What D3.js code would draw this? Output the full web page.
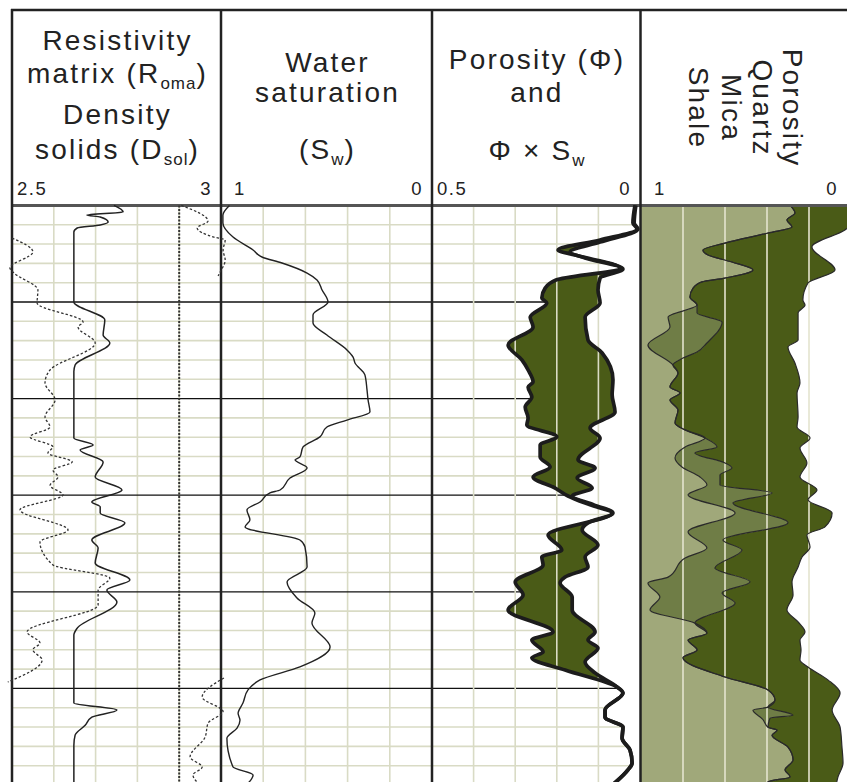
<!DOCTYPE html>
<html>
<head>
<meta charset="utf-8">
<script src="https://cdn.jsdelivr.net/npm/d3@7"></script>
<style>
  body { margin: 0; background: #fff; }
  svg { display: block; }
  .title { font-family: "Liberation Sans", Arial, sans-serif; font-size: 28px; letter-spacing: 2.2px; fill: #222; }
  .scale { font-family: "Liberation Sans", Arial, sans-serif; font-size: 18.5px; letter-spacing: 1.5px; fill: #222; }
</style>
</head>
<body>
<svg id="chart" width="847" height="782"></svg>
<script>
// ---- data: [depth, value] ----
const depthDomain = [0, 30];

// track 1 (2.5 .. 3)
const roma = [[0,2.744],[0.34,2.766],[0.50,2.679],[0.60,2.711],[0.86,2.730],[1.01,2.711],[1.17,2.656],[1.38,2.648],[5.00,2.648],[5.93,2.722],[6.71,2.718],[7.12,2.734],[8.26,2.651],[8.60,2.648],[12.04,2.648],[12.40,2.694],[12.66,2.663],[13.28,2.718],[14.06,2.699],[14.73,2.763],[15.35,2.691],[15.60,2.711],[15.92,2.711],[16.43,2.770],[17.32,2.691],[17.73,2.706],[18.51,2.699],[19.39,2.782],[19.91,2.727],[20.53,2.751],[21.88,2.656],[22.24,2.648],[25.76,2.648],[26.12,2.751],[26.49,2.691],[26.91,2.675],[27.42,2.651],[27.94,2.648],[30,2.648]];
const dsol = [[1.69,2.500],[2.41,2.550],[3.24,2.495],[3.50,2.505],[4.38,2.562],[5.05,2.560],[6.04,2.670],[6.29,2.658],[7.12,2.699],[8.52,2.591],[9.19,2.579],[10.07,2.603],[10.95,2.579],[11.47,2.591],[11.98,2.543],[12.50,2.598],[12.81,2.586],[13.28,2.644],[13.69,2.598],[14.06,2.610],[14.50,2.591],[14.98,2.622],[15.76,2.519],[16.80,2.634],[17.42,2.567],[18.61,2.598],[19.29,2.734],[19.91,2.706],[20.68,2.706],[22.08,2.536],[22.65,2.567],[23.00,2.550],[23.53,2.572],[24.67,2.490]];
const dsolWrapTop = [[0,2.905],[0.81,2.969],[1.17,2.943],[1.64,2.983],[1.79,3.010],[2.31,3.005],[2.83,3.010],[3.45,2.998],[3.65,2.993]];
const dsolWrapBottom = [[24.46,3.007],[25.45,2.955],[26.20,3.005],[26.80,2.969],[27.52,2.962],[28.55,2.926],[29.07,2.955],[29.48,2.933],[30,2.950]];
const dsolCutoff = 2.9;

// track 2 (1 .. 0)
const sw = [[0,0.960],[0.50,0.991],[0.91,0.991],[1.64,0.943],[2.31,0.848],[2.67,0.806],[2.98,0.711],[3.50,0.592],[3.86,0.545],[4.38,0.521],[5.00,0.493],[5.67,0.564],[6.09,0.564],[6.71,0.498],[7.48,0.403],[7.85,0.374],[8.16,0.365],[8.77,0.318],[9.55,0.308],[10.07,0.303],[10.69,0.294],[11.11,0.403],[11.47,0.498],[11.98,0.531],[12.50,0.611],[13.02,0.626],[13.17,0.649],[13.59,0.592],[14.11,0.673],[14.73,0.720],[14.88,0.768],[15.35,0.815],[15.76,0.877],[16.28,0.863],[16.64,0.886],[17.32,0.626],[17.68,0.602],[18.72,0.592],[19.49,0.687],[20.32,0.640],[21.10,0.555],[21.62,0.569],[22.86,0.483],[23.89,0.626],[24.56,0.815],[25.08,0.872],[25.76,0.896],[26.29,0.919],[26.65,0.910],[27.06,0.924],[27.58,0.972],[29.07,0.943],[29.48,0.848],[30,0.880]];

// track 3 (0.5 .. 0)
const phi = [[0,0.012],[0.91,0.017],[1.22,0.007],[1.79,0.096],[2.31,0.197],[2.57,0.156],[3.24,0.048],[3.86,0.202],[4.28,0.228],[4.79,0.236],[5.05,0.224],[5.78,0.264],[6.29,0.257],[7.22,0.317],[8.00,0.284],[8.52,0.269],[9.14,0.257],[9.40,0.269],[9.92,0.260],[10.44,0.276],[11.00,0.269],[11.36,0.272],[11.98,0.200],[12.40,0.240],[13.02,0.240],[13.54,0.216],[14.06,0.257],[14.63,0.204],[15.04,0.173],[15.50,0.120],[15.92,0.067],[17.06,0.221],[17.84,0.188],[18.20,0.236],[18.61,0.233],[19.49,0.300],[20.16,0.281],[20.94,0.317],[22.08,0.209],[22.50,0.260],[23.11,0.233],[23.42,0.260],[24.05,0.180],[24.93,0.055],[25.24,0.041],[26.12,0.084],[26.49,0.084],[27.01,0.041],[27.58,0.043],[28.19,0.024],[28.86,0.019],[29.22,0.029],[29.84,0.058],[30,0.067]];
const phiSw = [[0,0.010],[0.91,0.014],[1.22,0.005],[1.90,0.096],[2.41,0.168],[2.72,0.132],[3.29,0.041],[3.76,0.096],[4.38,0.101],[5.05,0.096],[5.78,0.132],[6.97,0.125],[7.64,0.091],[9.03,0.065],[9.80,0.067],[10.69,0.060],[11.52,0.120],[12.04,0.096],[13.17,0.149],[13.59,0.108],[14.11,0.151],[14.63,0.115],[15.04,0.163],[15.50,0.111],[15.92,0.065],[16.43,0.125],[16.80,0.139],[17.58,0.101],[18.20,0.132],[18.72,0.125],[19.24,0.180],[19.54,0.192],[20.27,0.163],[20.94,0.163],[22.08,0.108],[22.50,0.125],[22.91,0.101],[23.63,0.132],[24.20,0.108],[24.93,0.055],[25.24,0.041],[26.12,0.084],[26.49,0.084],[27.01,0.041],[27.58,0.043],[28.19,0.024],[28.86,0.019],[29.22,0.029],[29.84,0.058],[30,0.067]];

// track 4 (1 .. 0), cumulative boundaries from the right
const porosityEdge = [[0,0.000],[1.01,0.000],[1.27,0.029],[2.15,0.186],[3.34,0.076],[4.02,0.205],[4.90,0.229],[5.16,0.219],[5.57,0.252],[6.97,0.252],[7.33,0.300],[8.16,0.267],[9.19,0.243],[9.71,0.257],[10.95,0.252],[11.47,0.257],[12.04,0.195],[12.56,0.243],[13.33,0.210],[14.06,0.243],[14.73,0.162],[15.24,0.205],[15.92,0.090],[16.64,0.124],[17.06,0.210],[17.68,0.195],[18.20,0.233],[18.72,0.252],[19.49,0.281],[20.16,0.276],[20.94,0.305],[21.56,0.252],[22.08,0.219],[22.50,0.243],[23.01,0.238],[23.53,0.243],[23.89,0.205],[24.56,0.110],[25.24,0.052],[26.12,0.090],[27.01,0.052],[28.04,0.043],[28.86,0.038],[29.58,0.062],[30,0.071]];
const quartzEdge = [[0,0.290],[0.39,0.267],[0.76,0.305],[1.12,0.281],[1.43,0.395],[1.95,0.600],[2.31,0.705],[2.57,0.681],[2.93,0.567],[3.34,0.467],[3.76,0.600],[3.96,0.710],[4.28,0.752],[4.74,0.767],[5.16,0.733],[5.57,0.733],[6.04,0.614],[7.12,0.686],[7.59,0.733],[7.90,0.800],[8.26,0.848],[8.67,0.824],[9.40,0.862],[9.71,0.814],[10.07,0.862],[10.59,0.824],[11.26,0.838],[11.62,0.790],[12.04,0.695],[12.50,0.638],[12.81,0.743],[13.33,0.600],[13.59,0.567],[13.95,0.624],[14.47,0.624],[14.88,0.376],[15.40,0.562],[16.43,0.300],[17.32,0.610],[17.84,0.519],[18.77,0.648],[19.49,0.481],[20.06,0.614],[20.58,0.552],[21.62,0.743],[22.14,0.686],[22.50,0.776],[23.01,0.733],[23.42,0.800],[24.41,0.600],[25.08,0.395],[25.60,0.362],[25.97,0.395],[26.39,0.276],[26.54,0.386],[27.01,0.395],[27.16,0.352],[27.42,0.376],[28.04,0.300],[28.71,0.276],[29.22,0.314],[29.58,0.290],[29.84,0.395],[30,0.400]];
const micaEdge = [[0,0.290],[0.39,0.267],[0.76,0.305],[1.12,0.281],[1.43,0.395],[1.95,0.600],[2.31,0.705],[2.57,0.681],[2.93,0.567],[3.34,0.467],[3.76,0.600],[3.96,0.710],[4.28,0.752],[4.74,0.767],[5.16,0.733],[5.78,0.871],[6.29,0.862],[7.22,0.967],[8.26,0.848],[8.67,0.824],[9.40,0.862],[9.71,0.814],[10.07,0.862],[10.59,0.824],[11.26,0.838],[11.62,0.790],[12.04,0.695],[12.50,0.790],[13.07,0.838],[13.54,0.805],[14.06,0.719],[14.47,0.686],[14.98,0.776],[15.92,0.552],[16.90,0.776],[17.73,0.686],[18.25,0.790],[19.24,0.871],[19.54,0.967],[20.27,0.910],[20.94,0.957],[21.62,0.743],[22.14,0.686],[22.50,0.776],[23.01,0.733],[23.42,0.800],[24.41,0.600],[25.08,0.395],[25.60,0.362],[25.97,0.395],[26.12,0.467],[26.60,0.420],[27.01,0.395],[27.16,0.352],[27.42,0.376],[28.04,0.300],[28.71,0.276],[29.22,0.314],[29.58,0.290],[29.84,0.395],[30,0.400]];

// header texts: [text, isSubscript]
const titleTrack1 = [[["Resistivity",0]], [["matrix (R",0],["oma",1],[")",0]], [["Density",0]], [["solids (D",0],["sol",1],[")",0]]];
const titleTrack2 = [[["Water",0]], [["saturation",0]], [["(S",0],["w",1],[")",0]]];
const titleTrack3 = [[["Porosity (Φ)",0]], [["and",0]], [["Φ × S",0],["w",1]]];
const titleTrack4 = ["Porosity", "Quartz", "Mica", "Shale"];
const scaleLabels = [["2.5","3"], ["1","0"], ["0.5","0"], ["1","0"]];

// ---- layout ----
const svg = d3.select("#chart");
const W = 847, H = 782;
const headTop = 10, dataTop = 205.4;
const cream = "#d9dbc5", ink = "#222";
const darkGreen = "#4a5b17", midGreen = "#6f7d46", lightGreen = "#a0a87a";

const yD = d3.scaleLinear().domain(depthDomain).range([dataTop, 785]);
const x1 = d3.scaleLinear().domain([2.5, 3]).range([12, 221]);
const x2 = d3.scaleLinear().domain([1, 0]).range([221, 432]);
const x3 = d3.scaleLinear().domain([0.5, 0]).range([432, 640]);
const x4 = d3.scaleLinear().domain([1, 0]).range([641, 851]);
const tracks = [x1, x2, x3, x4];

const curveLine = xs => d3.line().x(d => xs(d[1])).y(d => yD(d[0])).curve(d3.curveMonotoneY);
const bandPath = (a, b, xs) => {
    const l = curveLine(xs);
    return l(a) + l(b.slice().reverse()).replace(/^M/, "L") + "Z";
};

const minorDepths = d3.range(1, 30).filter(d => d % 5 !== 0);
const majorDepths = d3.range(5, 30, 5);

// horizontal grid for tracks 1-3
[x1, x2, x3].forEach(xs => {
    const [l, r] = xs.range().slice().sort((a, b) => a - b);
    svg.append("g").selectAll("line").data(minorDepths).join("line")
        .attr("x1", l).attr("x2", r).attr("y1", d => yD(d)).attr("y2", d => yD(d))
        .attr("stroke", cream).attr("stroke-width", 1.6);
});
const verticalGrid = xs => {
    const ticks = xs.ticks(5).filter(t => t !== xs.domain()[0] && t !== xs.domain()[1]);
    svg.append("g").selectAll("line").data(ticks).join("line")
        .attr("x1", d => xs(d)).attr("x2", d => xs(d))
        .attr("y1", dataTop).attr("y2", H)
        .attr("stroke", cream).attr("stroke-width", 1.6);
};
verticalGrid(x1);
verticalGrid(x2);
[x1, x2, x3].forEach(xs => {
    const [l, r] = xs.range().slice().sort((a, b) => a - b);
    svg.append("g").selectAll("line").data(majorDepths).join("line")
        .attr("x1", l).attr("x2", r).attr("y1", d => yD(d)).attr("y2", d => yD(d))
        .attr("stroke", "#111").attr("stroke-width", 1.3);
});

// track 3 fills
svg.append("path")
    .attr("d", d3.area().x0(d => x3(d[1])).x1(x3(0)).y(d => yD(d[0])).curve(d3.curveMonotoneY)(phiSw))
    .attr("fill", "#fff");
svg.append("path").attr("d", bandPath(phi, phiSw, x3)).attr("fill", darkGreen);
verticalGrid(x3);

// track 4 fills
svg.append("path")
    .attr("d", d3.area().x0(x4(1)).x1(d => x4(d[1])).y(d => yD(d[0])).curve(d3.curveMonotoneY)(micaEdge))
    .attr("fill", lightGreen);
svg.append("path").attr("d", bandPath(micaEdge, quartzEdge, x4)).attr("fill", midGreen);
svg.append("path").attr("d", bandPath(quartzEdge, porosityEdge, x4)).attr("fill", darkGreen);
svg.append("g").selectAll("line").data(x4.ticks(5).slice(1, -1)).join("line")
    .attr("x1", d => x4(d)).attr("x2", d => x4(d))
    .attr("y1", dataTop).attr("y2", H)
    .attr("stroke", "#e4e4cf").attr("stroke-width", 1.6);
[micaEdge, quartzEdge, porosityEdge].forEach(c => {
    svg.append("path").attr("d", curveLine(x4)(c))
        .attr("fill", "none").attr("stroke", "#2a2a2a").attr("stroke-width", 1.2);
});

// frame
svg.append("line").attr("x1", 12).attr("x2", W).attr("y1", dataTop).attr("y2", dataTop)
    .attr("stroke", "#555").attr("stroke-width", 3);
svg.append("line").attr("x1", 11).attr("x2", W).attr("y1", headTop).attr("y2", headTop)
    .attr("stroke", ink).attr("stroke-width", 2.5);
svg.append("g").selectAll("line").data([12, 221, 432, 640.5]).join("line")
    .attr("x1", d => d).attr("x2", d => d).attr("y1", headTop - 1).attr("y2", H)
    .attr("stroke", ink).attr("stroke-width", 2.5);

// track 1 curves
svg.append("line").attr("x1", x1(dsolCutoff)).attr("x2", x1(dsolCutoff))
    .attr("y1", dataTop).attr("y2", H)
    .attr("stroke", "#333").attr("stroke-width", 2).attr("stroke-dasharray", "2,1.5");
svg.append("path").attr("d", curveLine(x1)(roma))
    .attr("fill", "none").attr("stroke", ink).attr("stroke-width", 1.5);
[dsol, dsolWrapTop, dsolWrapBottom].forEach(c => {
    svg.append("path").attr("d", curveLine(x1)(c))
        .attr("fill", "none").attr("stroke", "#333").attr("stroke-width", 1.3)
        .attr("stroke-dasharray", "2.5,2");
});

// track 2 curve
svg.append("path").attr("d", curveLine(x2)(sw))
    .attr("fill", "none").attr("stroke", ink).attr("stroke-width", 1.4);

// track 3 curves
[phi, phiSw].forEach(c => {
    svg.append("path").attr("d", curveLine(x3)(c))
        .attr("fill", "none").attr("stroke", "#1c1c1c").attr("stroke-width", 3.7)
        .attr("stroke-linejoin", "round");
});

// header titles
function drawTitle(lines, cx, baselines) {
    lines.forEach((segs, i) => {
        const t = svg.append("text").attr("class", "title")
            .attr("x", cx).attr("y", baselines[i]).attr("text-anchor", "middle");
        let down = false;
        segs.forEach(([txt, sub]) => {
            const ts = t.append("tspan").text(txt);
            if (sub) {
                ts.attr("font-size", 17).style("letter-spacing", "1px");
                if (!down) { ts.attr("dy", 6); down = true; }
            } else if (down) {
                ts.attr("dy", -6);
                down = false;
            }
        });
    });
}
drawTitle(titleTrack1, 117.5, [50, 83, 124, 159]);
drawTitle(titleTrack2, 327.5, [72, 102, 159]);
drawTitle(titleTrack3, 537, [69, 102, 160]);

titleTrack4.forEach((txt, i) => {
    svg.append("text").attr("class", "title")
        .attr("text-anchor", "middle")
        .attr("transform", `translate(${[783, 753, 722, 689][i]},108) rotate(90)`)
        .text(txt);
});

// scale labels
const leftInset = [5, 13, 5, 13];
scaleLabels.forEach(([a, b], i) => {
    const [l, r] = tracks[i].range();
    svg.append("text").attr("class", "scale").attr("x", l + leftInset[i]).attr("y", 195).text(a);
    svg.append("text").attr("class", "scale").attr("text-anchor", "end")
        .attr("x", Math.min(r, W) - 9).attr("y", 195).text(b);
});
</script>
</body>
</html>
